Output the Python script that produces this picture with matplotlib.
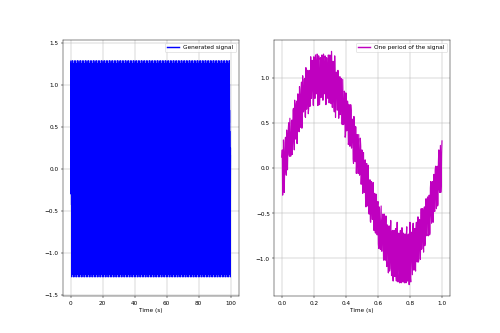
import numpy as np
import matplotlib
matplotlib.use("Agg")
import matplotlib.pyplot as plt

# one period of the noisy signal (t = 0 .. 1 s)
# samples at t = k/200
period_vals = [
    0.12, -0.30, 0.31, -0.27, 0.28, -0.02, 0.42, -0.02, 0.43, 0.15,
    0.55, 0.13, 0.52, 0.15, 0.64, 0.33, 0.75, 0.32, 0.71, 0.27,
    0.82, 0.46, 0.90, 0.45, 0.87, 0.44, 1.02, 0.62, 0.98, 0.57,
    1.11, 0.65, 1.08, 0.60, 1.08, 0.68, 1.23, 0.77, 1.19, 0.70,
    1.23, 0.77, 1.25, 0.82, 1.26, 0.69, 1.24, 0.70, 1.22, 0.78,
    1.25, 0.75, 1.26, 0.82, 1.24, 0.70, 1.22, 0.79, 1.25, 0.72,
    1.25, 0.76, 1.29, 0.67, 1.18, 0.68, 1.24, 0.56, 1.06, 0.64,
    1.08, 0.55, 0.98, 0.59, 0.99, 0.49, 0.98, 0.48, 0.85, 0.34,
    0.83, 0.41, 0.74, 0.26, 0.70, 0.24, 0.70, 0.22, 0.54, 0.10,
    0.57, 0.09, 0.46, -0.06, 0.37, -0.06, 0.37, -0.08, 0.33, -0.18,
    0.20, -0.28, 0.17, -0.27, 0.09, -0.43, 0.05, -0.42, 0.03, -0.51,
    -0.13, -0.60, -0.15, -0.57, -0.16, -0.69, -0.28, -0.72, -0.29, -0.74,
    -0.37, -0.89, -0.45, -0.90, -0.42, -0.92, -0.51, -1.02, -0.51, -1.02,
    -0.53, -1.09, -0.63, -1.16, -0.64, -1.11, -0.58, -1.19, -0.69, -1.25,
    -0.69, -1.20, -0.67, -1.25, -0.60, -1.26, -0.72, -1.27, -0.69, -1.27,
    -0.66, -1.26, -0.72, -1.27, -0.73, -1.27, -0.65, -1.25, -0.73, -1.29,
    -0.60, -1.26, -0.71, -1.18, -0.61, -1.13, -0.67, -1.14, -0.60, -1.04,
    -0.54, -1.02, -0.57, -1.01, -0.45, -0.89, -0.45, -0.93, -0.43, -0.83,
    -0.34, -0.75, -0.32, -0.75, -0.30, -0.72, -0.15, -0.61, -0.15, -0.60,
    -0.07, -0.48, 0.02, -0.45, 0.02, -0.40, 0.20, -0.27, 0.25, -0.18,
    0.30,
]
# samples at t = (k + 0.5)/200
period_mid_vals = [
    0.20, -0.17, 0.13, -0.01, 0.34, -0.08, 0.30, 0.18, 0.50, 0.13,
    0.34, 0.15, 0.53, 0.33, 0.66, 0.20, 0.62, 0.50, 0.74, 0.44,
    0.67, 0.40, 0.81, 0.57, 0.95, 0.54, 0.77, 0.65, 0.99, 0.56,
    0.95, 0.78, 1.02, 0.66, 0.97, 0.75, 1.14, 0.89, 1.08, 0.69,
    1.02, 0.77, 1.17, 0.89, 1.25, 0.86, 1.00, 0.78, 1.18, 0.93,
    1.11, 0.75, 1.15, 0.95, 1.21, 0.82, 1.06, 0.77, 1.20, 0.84,
    0.99, 0.71, 1.11, 0.81, 1.06, 0.62, 1.00, 0.84, 1.05, 0.64,
    0.89, 0.64, 1.01, 0.68, 0.84, 0.48, 0.69, 0.49, 0.83, 0.36,
    0.72, 0.47, 0.70, 0.29, 0.54, 0.31, 0.64, 0.33, 0.52, 0.05,
    0.39, 0.07, 0.45, 0.09, 0.32, -0.06, 0.16, -0.07, 0.24, -0.07,
    -0.11, 0.14, -0.23, -0.06, -0.34, -0.02, -0.31, -0.01, -0.45, -0.19,
    -0.59, -0.18, -0.43, -0.18, -0.57, -0.40, -0.71, -0.34, -0.63, -0.44,
    -0.84, -0.43, -0.81, -0.65, -0.92, -0.60, -0.80, -0.51, -0.92, -0.71,
    -1.00, -0.63, -0.86, -0.74, -1.14, -0.74, -1.01, -0.73, -1.17, -0.91,
    -1.08, -0.72, -1.17, -0.90, -1.16, -0.77, -1.03, -0.85, -1.25, -0.89,
    -1.07, -0.82, -1.22, -0.98, -1.12, -0.73, -1.07, -0.77, -1.15, -0.90,
    -1.21, -0.80, -0.95, -0.68, -1.05, -0.79, -1.08, -0.68, -0.90, -0.69,
    -1.04, -0.57, -0.87, -0.71, -0.90, -0.45, -0.77, -0.49, -0.86, -0.53,
    -0.72, -0.36, -0.54, -0.38, -0.74, -0.22, -0.49, -0.23, -0.55, -0.30,
    -0.45, -0.02, -0.28, -0.10, -0.42, 0.06, -0.23, -0.03, -0.27, 0.16,
]
n_periods = 100

signal_period = np.empty(len(period_vals) + len(period_mid_vals))
signal_period[0::2] = period_vals
signal_period[1::2] = period_mid_vals
t_period = np.linspace(0, 1, len(signal_period))

# the full signal is the same period repeated over 100 s
samples_per_period = len(signal_period) - 1
t_full = np.arange(n_periods * samples_per_period) / samples_per_period
signal_full = np.tile(signal_period[:-1], n_periods)

fig = plt.figure(figsize=(12, 8), dpi=500 / 12)

plt.subplot(1, 2, 1)
plt.plot(t_full, signal_full, 'b', label='Generated signal')
plt.xlabel('Time (s)')
plt.ylim(-1.52, 1.54)
leg = plt.legend(loc='upper right')
for h in leg.legend_handles:
    h.set_linewidth(2.5)
plt.grid(True)

plt.subplot(1, 2, 2)
plt.plot(t_period, signal_period, 'm', lw=2.0, label='One period of the signal')
plt.xlabel('Time (s)')
leg = plt.legend(loc='upper right')
for h in leg.legend_handles:
    h.set_linewidth(2.5)
plt.grid(True)

plt.savefig('out.png', dpi=500 / 12)
